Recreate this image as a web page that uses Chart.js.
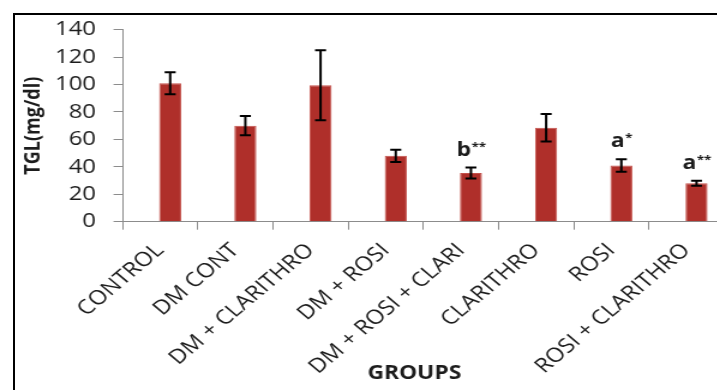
<!DOCTYPE html>
<html>
<head>
<meta charset="utf-8">
<script src="https://cdn.jsdelivr.net/npm/chart.js@4/dist/chart.umd.min.js"></script>
<style>
  html, body { margin: 0; padding: 0; background: #fff; overflow: hidden; width: 717px; height: 390px; }
  #frame { position: absolute; left: 13px; top: 13px; width: 900px; height: 600px; border: 2px solid #000; }
  #wrap { position: absolute; left: 0; top: 0; width: 620px; height: 390px; transform: scaleX(1.2); transform-origin: 0 0; }
</style>
</head>
<body>
<div id="frame"></div>
<div id="wrap"><canvas id="c"></canvas></div>
<script>
// Serum triglycerides per treatment group (mean ± SD)
const groups = ['CONTROL', 'DM CONT', 'DM + CLARITHRO', 'DM + ROSI', 'DM + ROSI + CLARI', 'CLARITHRO', 'ROSI', 'ROSI + CLARITHRO'];
const tglMean = [101, 70, 99.5, 48, 35.5, 68.5, 41, 28];
const tglSd = [8, 7, 25.5, 4.5, 4, 10, 4.5, 1.8];
// Significance letters and their star superscripts
const sigLetter = ['', '', '', '', 'b', '', 'a', 'a'];
const sigStars = ['', '', '', '', '**', '', '*', '**'];
const yMin = 0, yMax = 140, yStep = 20;
const xTitle = 'GROUPS';

const FONT = '"Open Sans", "Liberation Sans", sans-serif';
const TEXT = '#1c1c1c';
const AXIS = '#8c8c8c';

const errorBars = {
  id: 'errorBars',
  afterDatasetsDraw(chart) {
    const meta = chart.getDatasetMeta(1);
    const y = chart.scales.y;
    const ctx = chart.ctx;
    ctx.save();
    ctx.strokeStyle = '#000';
    ctx.lineWidth = 2;
    meta.data.forEach((bar, i) => {
      const x = bar.x;
      const top = y.getPixelForValue(tglMean[i] + tglSd[i]);
      const bot = y.getPixelForValue(tglMean[i] - tglSd[i]);
      const cap = 4.6;
      ctx.beginPath();
      ctx.moveTo(x, top); ctx.lineTo(x, bot);
      ctx.moveTo(x - cap, top); ctx.lineTo(x + cap, top);
      ctx.moveTo(x - cap, bot); ctx.lineTo(x + cap, bot);
      ctx.stroke();
      if (sigLetter[i]) {
        ctx.fillStyle = TEXT;
        ctx.textBaseline = 'alphabetic';
        ctx.textAlign = 'left';
        const base = top - 12;
        ctx.font = 'bold 19px ' + FONT;
        const wL = ctx.measureText(sigLetter[i]).width;
        ctx.font = 'bold 11px ' + FONT;
        const wS = ctx.measureText(sigStars[i]).width;
        const x0 = x - (wL + wS) / 2;
        ctx.font = 'bold 19px ' + FONT;
        ctx.fillText(sigLetter[i], x0, base);
        ctx.font = 'bold 11px ' + FONT;
        ctx.fillText(sigStars[i], x0 + wL + 0.5, base - 6);
      }
    });
    ctx.restore();
  }
};

// Axis title under the category labels, centred on the axis
const axisTitle = {
  id: 'axisTitle',
  afterDraw(chart) {
    const { ctx, chartArea } = chart;
    ctx.save();
    ctx.fillStyle = TEXT;
    ctx.font = 'bold 19px ' + FONT;
    ctx.textAlign = 'center';
    ctx.textBaseline = 'middle';
    ctx.fillText(xTitle, (chartArea.left + chartArea.right) / 2 - 7.5, 374);
    ctx.restore();
  }
};

new Chart(document.getElementById('c'), {
  type: 'bar',
  data: {
    labels: groups,
    datasets: [
      { label: '', data: groups.map(() => null) },
      {
        label: 'TGL',
        data: tglMean,
        backgroundColor: '#AF2F2A',
        borderColor: '#C4514B',
        borderWidth: 1
      }
    ]
  },
  options: {
    responsive: true,
    maintainAspectRatio: false,
    animation: false,
    events: [],
    datasets: { bar: { categoryPercentage: 0.533, barPercentage: 1.1 } },
    layout: { padding: { left: 0, right: 16.6, top: 29.7, bottom: 0 } },
    plugins: { legend: { display: false }, tooltip: { enabled: false } },
    scales: {
      x: {
        offset: true,
        grid: { offset: true, drawOnChartArea: false, drawTicks: true, tickLength: 8, color: AXIS, lineWidth: 1 },
        border: { display: true, color: AXIS, width: 1 },
        ticks: {
          autoSkip: false, minRotation: 45, maxRotation: 45, padding: 9,
          color: TEXT, font: { family: FONT, size: 20 }
        },
        afterFit(scale) { scale.height = 168.3; }
      },
      y: {
        min: yMin, max: yMax,
        grid: { drawOnChartArea: false, drawTicks: true, tickLength: 7.5, color: AXIS, lineWidth: 1 },
        border: { display: true, color: AXIS, width: 1 },
        ticks: { stepSize: yStep, padding: 14.6, color: TEXT, font: { family: FONT, size: 20 } },
        title: {
          display: true, text: 'TGL(mg/dl)', color: TEXT,
          font: { family: FONT, size: 18, weight: 'bold' },
          padding: { top: 16.7, bottom: 0 }
        },
        afterFit(scale) { scale.width = 102.1; }
      }
    }
  },
  plugins: [errorBars, axisTitle]
});
</script>
</body>
</html>
